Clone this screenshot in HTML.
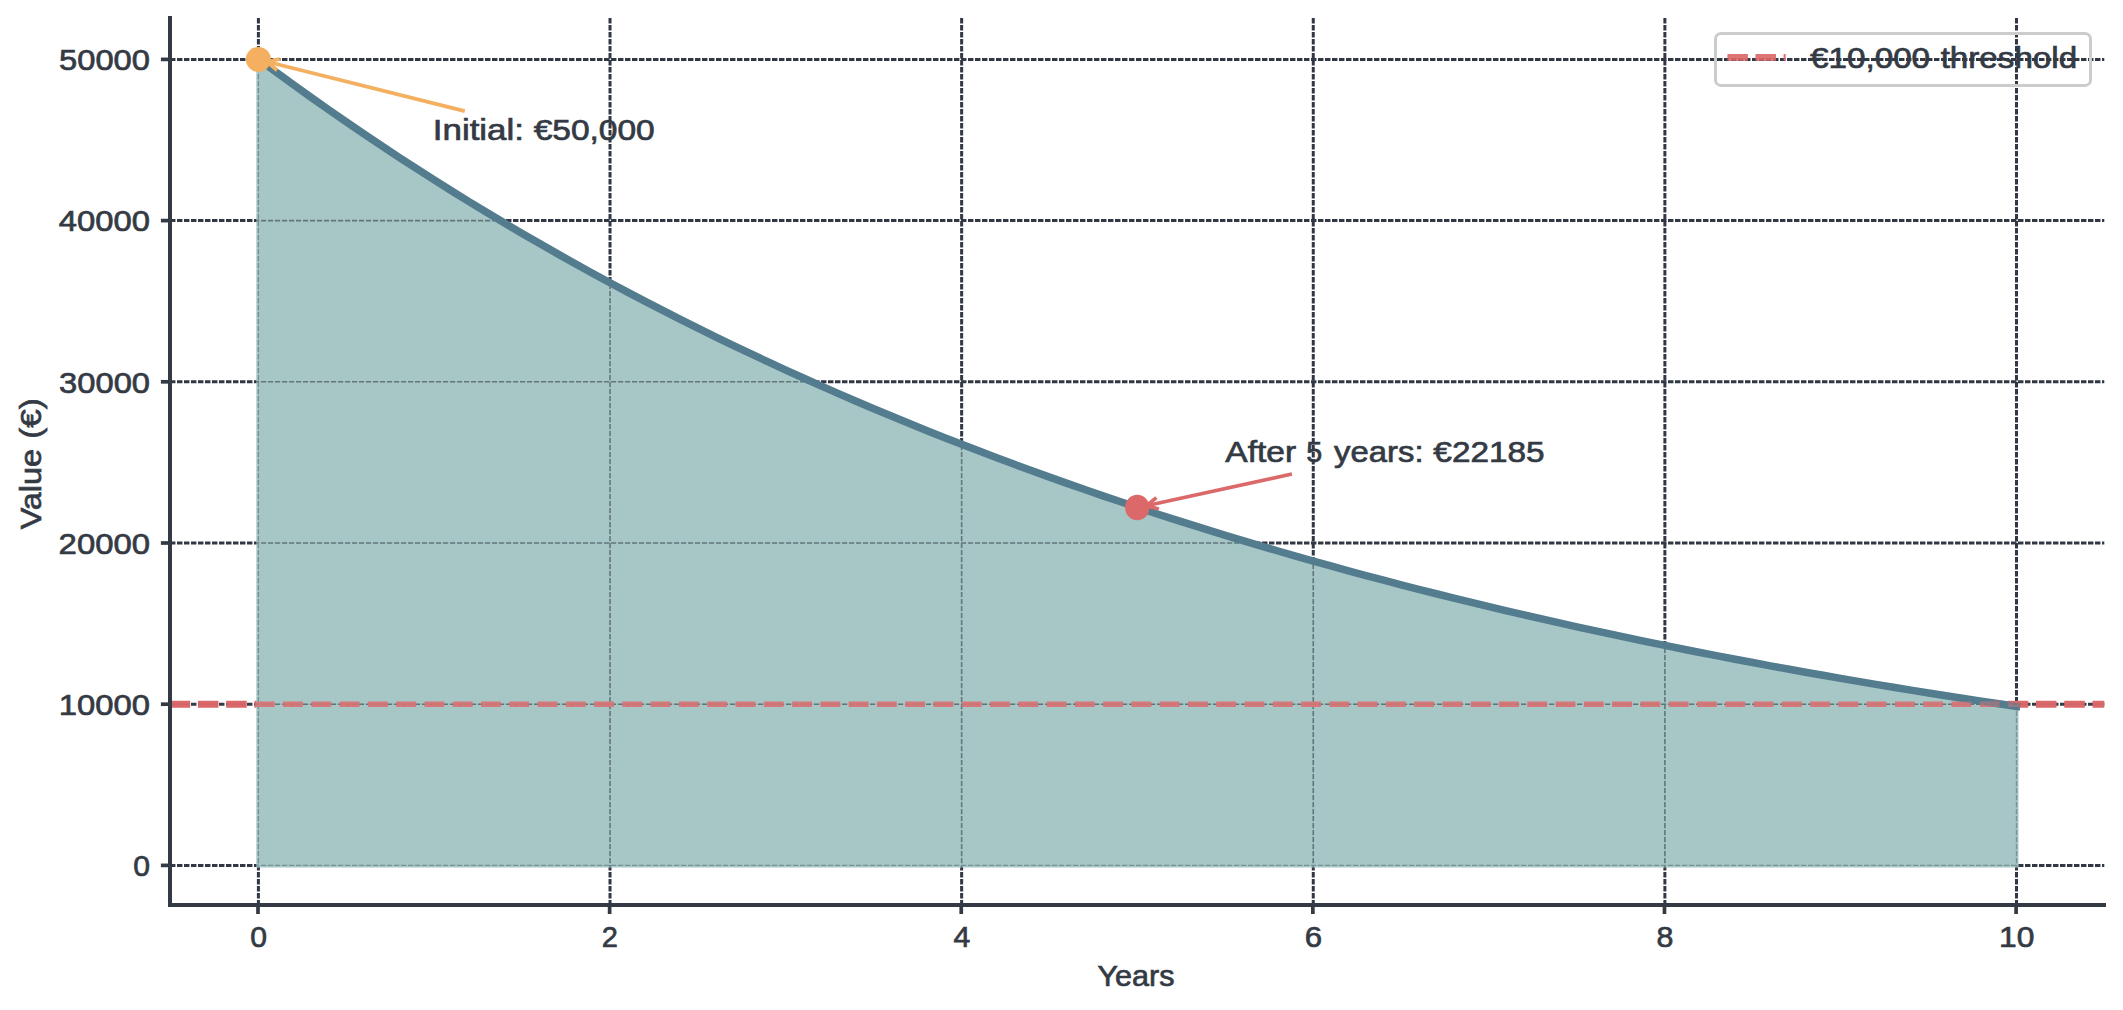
<!DOCTYPE html>
<html><head><meta charset="utf-8"><title>Depreciation chart</title>
<style>
html,body{margin:0;padding:0;background:#fff;}
body{width:2123px;height:1010px;overflow:hidden;font-family:"Liberation Sans",sans-serif;}
svg{display:block}
</style></head><body>
<svg width="2123" height="1010" viewBox="0 0 2123 1010" font-family="'Liberation Sans', sans-serif">
<rect width="2123" height="1010" fill="#ffffff"/>
<defs><clipPath id="fc"><path d="M256.40,867.40 L256.40,57.40 L258.40,57.40 L275.98,70.39 L293.56,83.18 L311.14,95.75 L328.72,108.13 L346.30,120.30 L363.89,132.28 L381.47,144.07 L399.05,155.67 L416.63,167.07 L434.21,178.30 L451.79,189.34 L469.37,200.21 L486.95,210.90 L504.53,221.42 L522.12,231.77 L539.70,241.95 L557.28,251.97 L574.86,261.83 L592.44,271.52 L610.02,281.07 L627.60,290.45 L645.18,299.69 L662.76,308.78 L680.34,317.72 L697.92,326.51 L715.51,335.17 L733.09,343.68 L750.67,352.06 L768.25,360.31 L785.83,368.42 L803.41,376.39 L820.99,384.25 L838.57,391.97 L856.15,399.57 L873.74,407.05 L891.32,414.40 L908.90,421.64 L926.48,428.76 L944.06,435.77 L961.64,442.66 L979.22,449.45 L996.80,456.12 L1014.38,462.68 L1031.96,469.14 L1049.55,475.50 L1067.13,481.75 L1084.71,487.91 L1102.29,493.96 L1119.87,499.91 L1137.45,505.77 L1155.03,511.54 L1172.61,517.21 L1190.19,522.79 L1207.77,528.28 L1225.36,533.68 L1242.94,539.00 L1260.52,544.23 L1278.10,549.37 L1295.68,554.44 L1313.26,559.42 L1330.84,564.32 L1348.42,569.14 L1366.00,573.88 L1383.58,578.55 L1401.16,583.14 L1418.75,587.66 L1436.33,592.10 L1453.91,596.48 L1471.49,600.78 L1489.07,605.01 L1506.65,609.18 L1524.23,613.28 L1541.81,617.31 L1559.39,621.28 L1576.97,625.18 L1594.56,629.02 L1612.14,632.80 L1629.72,636.52 L1647.30,640.17 L1664.88,643.77 L1682.46,647.31 L1700.04,650.80 L1717.62,654.22 L1735.20,657.60 L1752.78,660.91 L1770.37,664.18 L1787.95,667.39 L1805.53,670.55 L1823.11,673.66 L1840.69,676.72 L1858.27,679.73 L1875.85,682.69 L1893.43,685.60 L1911.01,688.47 L1928.59,691.29 L1946.18,694.06 L1963.76,696.79 L1981.34,699.48 L1998.92,702.12 L2016.50,704.72 L2018.50,704.72 L2018.50,867.40 Z"/></clipPath><clipPath id="fo"><path clip-rule="evenodd" d="M0,0 H2123 V1010 H0 Z M256.40,867.40 L256.40,57.40 L258.40,57.40 L275.98,70.39 L293.56,83.18 L311.14,95.75 L328.72,108.13 L346.30,120.30 L363.89,132.28 L381.47,144.07 L399.05,155.67 L416.63,167.07 L434.21,178.30 L451.79,189.34 L469.37,200.21 L486.95,210.90 L504.53,221.42 L522.12,231.77 L539.70,241.95 L557.28,251.97 L574.86,261.83 L592.44,271.52 L610.02,281.07 L627.60,290.45 L645.18,299.69 L662.76,308.78 L680.34,317.72 L697.92,326.51 L715.51,335.17 L733.09,343.68 L750.67,352.06 L768.25,360.31 L785.83,368.42 L803.41,376.39 L820.99,384.25 L838.57,391.97 L856.15,399.57 L873.74,407.05 L891.32,414.40 L908.90,421.64 L926.48,428.76 L944.06,435.77 L961.64,442.66 L979.22,449.45 L996.80,456.12 L1014.38,462.68 L1031.96,469.14 L1049.55,475.50 L1067.13,481.75 L1084.71,487.91 L1102.29,493.96 L1119.87,499.91 L1137.45,505.77 L1155.03,511.54 L1172.61,517.21 L1190.19,522.79 L1207.77,528.28 L1225.36,533.68 L1242.94,539.00 L1260.52,544.23 L1278.10,549.37 L1295.68,554.44 L1313.26,559.42 L1330.84,564.32 L1348.42,569.14 L1366.00,573.88 L1383.58,578.55 L1401.16,583.14 L1418.75,587.66 L1436.33,592.10 L1453.91,596.48 L1471.49,600.78 L1489.07,605.01 L1506.65,609.18 L1524.23,613.28 L1541.81,617.31 L1559.39,621.28 L1576.97,625.18 L1594.56,629.02 L1612.14,632.80 L1629.72,636.52 L1647.30,640.17 L1664.88,643.77 L1682.46,647.31 L1700.04,650.80 L1717.62,654.22 L1735.20,657.60 L1752.78,660.91 L1770.37,664.18 L1787.95,667.39 L1805.53,670.55 L1823.11,673.66 L1840.69,676.72 L1858.27,679.73 L1875.85,682.69 L1893.43,685.60 L1911.01,688.47 L1928.59,691.29 L1946.18,694.06 L1963.76,696.79 L1981.34,699.48 L1998.92,702.12 L2016.50,704.72 L2018.50,704.72 L2018.50,867.40 Z"/></clipPath><clipPath id="thr"><rect x="0" y="700.70" width="2123" height="7"/></clipPath></defs>
<g stroke="#313843" stroke-width="3" stroke-dasharray="5.45 1.55" fill="none">
<line x1="258.40" y1="18.0" x2="258.40" y2="905.0"/>
<line x1="610.02" y1="18.0" x2="610.02" y2="905.0"/>
<line x1="961.64" y1="18.0" x2="961.64" y2="905.0"/>
<line x1="1313.26" y1="18.0" x2="1313.26" y2="905.0"/>
<line x1="1664.88" y1="18.0" x2="1664.88" y2="905.0"/>
<line x1="2016.50" y1="18.0" x2="2016.50" y2="905.0"/>
<line x1="170.0" y1="865.40" x2="2104.3" y2="865.40"/>
<line x1="170.0" y1="704.20" x2="2104.3" y2="704.20"/>
<line x1="170.0" y1="543.00" x2="2104.3" y2="543.00"/>
<line x1="170.0" y1="381.80" x2="2104.3" y2="381.80"/>
<line x1="170.0" y1="220.60" x2="2104.3" y2="220.60"/>
<line x1="170.0" y1="59.40" x2="2104.3" y2="59.40"/>
</g>
<path d="M258.40,59.40 L275.98,72.39 L293.56,85.18 L311.14,97.75 L328.72,110.13 L346.30,122.30 L363.89,134.28 L381.47,146.07 L399.05,157.67 L416.63,169.07 L434.21,180.30 L451.79,191.34 L469.37,202.21 L486.95,212.90 L504.53,223.42 L522.12,233.77 L539.70,243.95 L557.28,253.97 L574.86,263.83 L592.44,273.52 L610.02,283.07 L627.60,292.45 L645.18,301.69 L662.76,310.78 L680.34,319.72 L697.92,328.51 L715.51,337.17 L733.09,345.68 L750.67,354.06 L768.25,362.31 L785.83,370.42 L803.41,378.39 L820.99,386.25 L838.57,393.97 L856.15,401.57 L873.74,409.05 L891.32,416.40 L908.90,423.64 L926.48,430.76 L944.06,437.77 L961.64,444.66 L979.22,451.45 L996.80,458.12 L1014.38,464.68 L1031.96,471.14 L1049.55,477.50 L1067.13,483.75 L1084.71,489.91 L1102.29,495.96 L1119.87,501.91 L1137.45,507.77 L1155.03,513.54 L1172.61,519.21 L1190.19,524.79 L1207.77,530.28 L1225.36,535.68 L1242.94,541.00 L1260.52,546.23 L1278.10,551.37 L1295.68,556.44 L1313.26,561.42 L1330.84,566.32 L1348.42,571.14 L1366.00,575.88 L1383.58,580.55 L1401.16,585.14 L1418.75,589.66 L1436.33,594.10 L1453.91,598.48 L1471.49,602.78 L1489.07,607.01 L1506.65,611.18 L1524.23,615.28 L1541.81,619.31 L1559.39,623.28 L1576.97,627.18 L1594.56,631.02 L1612.14,634.80 L1629.72,638.52 L1647.30,642.17 L1664.88,645.77 L1682.46,649.31 L1700.04,652.80 L1717.62,656.22 L1735.20,659.60 L1752.78,662.91 L1770.37,666.18 L1787.95,669.39 L1805.53,672.55 L1823.11,675.66 L1840.69,678.72 L1858.27,681.73 L1875.85,684.69 L1893.43,687.60 L1911.01,690.47 L1928.59,693.29 L1946.18,696.06 L1963.76,698.79 L1981.34,701.48 L1998.92,704.12 L2016.50,706.72 L2016.50,865.40 L258.40,865.40 Z" fill="#a7c6c6" stroke="#a7c6c6" stroke-width="4.0" stroke-linejoin="miter"/>
<g clip-path="url(#fc)">
<g stroke="#63777b" stroke-width="1.6" stroke-dasharray="5.2 1.8" fill="none">
<line x1="610.02" y1="18.0" x2="610.02" y2="905.0"/>
<line x1="961.64" y1="18.0" x2="961.64" y2="905.0"/>
<line x1="1313.26" y1="18.0" x2="1313.26" y2="905.0"/>
<line x1="1664.88" y1="18.0" x2="1664.88" y2="905.0"/>
<line x1="170.0" y1="704.20" x2="2104.3" y2="704.20"/>
<line x1="170.0" y1="543.00" x2="2104.3" y2="543.00"/>
<line x1="170.0" y1="381.80" x2="2104.3" y2="381.80"/>
<line x1="170.0" y1="220.60" x2="2104.3" y2="220.60"/>
<line x1="170.0" y1="59.40" x2="2104.3" y2="59.40"/>
</g>
<g stroke="#789194" stroke-width="1.4" stroke-dasharray="5.2 1.8" fill="none">
<line x1="258.40" y1="18.0" x2="258.40" y2="905.0"/>
<line x1="2016.50" y1="18.0" x2="2016.50" y2="905.0"/>
<line x1="170.0" y1="865.40" x2="2104.3" y2="865.40"/>
</g>
</g>
<path d="M258.40,59.40 L275.98,72.39 L293.56,85.18 L311.14,97.75 L328.72,110.13 L346.30,122.30 L363.89,134.28 L381.47,146.07 L399.05,157.67 L416.63,169.07 L434.21,180.30 L451.79,191.34 L469.37,202.21 L486.95,212.90 L504.53,223.42 L522.12,233.77 L539.70,243.95 L557.28,253.97 L574.86,263.83 L592.44,273.52 L610.02,283.07 L627.60,292.45 L645.18,301.69 L662.76,310.78 L680.34,319.72 L697.92,328.51 L715.51,337.17 L733.09,345.68 L750.67,354.06 L768.25,362.31 L785.83,370.42 L803.41,378.39 L820.99,386.25 L838.57,393.97 L856.15,401.57 L873.74,409.05 L891.32,416.40 L908.90,423.64 L926.48,430.76 L944.06,437.77 L961.64,444.66 L979.22,451.45 L996.80,458.12 L1014.38,464.68 L1031.96,471.14 L1049.55,477.50 L1067.13,483.75 L1084.71,489.91 L1102.29,495.96 L1119.87,501.91 L1137.45,507.77 L1155.03,513.54 L1172.61,519.21 L1190.19,524.79 L1207.77,530.28 L1225.36,535.68 L1242.94,541.00 L1260.52,546.23 L1278.10,551.37 L1295.68,556.44 L1313.26,561.42 L1330.84,566.32 L1348.42,571.14 L1366.00,575.88 L1383.58,580.55 L1401.16,585.14 L1418.75,589.66 L1436.33,594.10 L1453.91,598.48 L1471.49,602.78 L1489.07,607.01 L1506.65,611.18 L1524.23,615.28 L1541.81,619.31 L1559.39,623.28 L1576.97,627.18 L1594.56,631.02 L1612.14,634.80 L1629.72,638.52 L1647.30,642.17 L1664.88,645.77 L1682.46,649.31 L1700.04,652.80 L1717.62,656.22 L1735.20,659.60 L1752.78,662.91 L1770.37,666.18 L1787.95,669.39 L1805.53,672.55 L1823.11,675.66 L1840.69,678.72 L1858.27,681.73 L1875.85,684.69 L1893.43,687.60 L1911.01,690.47 L1928.59,693.29 L1946.18,696.06 L1963.76,698.79 L1981.34,701.48 L1998.92,704.12 L2016.50,706.72" transform="translate(0,-0.35)" fill="none" stroke="#537c8f" stroke-width="7.5" stroke-linecap="square" stroke-linejoin="round"/>
<line clip-path="url(#fo)" x1="169.65" y1="704.20" x2="2104.3" y2="704.20" stroke="#dc686a" stroke-width="6.9" stroke-dasharray="20.5 7.778"/>
<line clip-path="url(#fc)" x1="170.0" y1="704.20" x2="2104.3" y2="704.20" stroke="#d5787a" stroke-width="5.5" stroke-dasharray="19.8 8.478"/>
<g clip-path="url(#thr)"><path d="M258.40,59.40 L275.98,72.39 L293.56,85.18 L311.14,97.75 L328.72,110.13 L346.30,122.30 L363.89,134.28 L381.47,146.07 L399.05,157.67 L416.63,169.07 L434.21,180.30 L451.79,191.34 L469.37,202.21 L486.95,212.90 L504.53,223.42 L522.12,233.77 L539.70,243.95 L557.28,253.97 L574.86,263.83 L592.44,273.52 L610.02,283.07 L627.60,292.45 L645.18,301.69 L662.76,310.78 L680.34,319.72 L697.92,328.51 L715.51,337.17 L733.09,345.68 L750.67,354.06 L768.25,362.31 L785.83,370.42 L803.41,378.39 L820.99,386.25 L838.57,393.97 L856.15,401.57 L873.74,409.05 L891.32,416.40 L908.90,423.64 L926.48,430.76 L944.06,437.77 L961.64,444.66 L979.22,451.45 L996.80,458.12 L1014.38,464.68 L1031.96,471.14 L1049.55,477.50 L1067.13,483.75 L1084.71,489.91 L1102.29,495.96 L1119.87,501.91 L1137.45,507.77 L1155.03,513.54 L1172.61,519.21 L1190.19,524.79 L1207.77,530.28 L1225.36,535.68 L1242.94,541.00 L1260.52,546.23 L1278.10,551.37 L1295.68,556.44 L1313.26,561.42 L1330.84,566.32 L1348.42,571.14 L1366.00,575.88 L1383.58,580.55 L1401.16,585.14 L1418.75,589.66 L1436.33,594.10 L1453.91,598.48 L1471.49,602.78 L1489.07,607.01 L1506.65,611.18 L1524.23,615.28 L1541.81,619.31 L1559.39,623.28 L1576.97,627.18 L1594.56,631.02 L1612.14,634.80 L1629.72,638.52 L1647.30,642.17 L1664.88,645.77 L1682.46,649.31 L1700.04,652.80 L1717.62,656.22 L1735.20,659.60 L1752.78,662.91 L1770.37,666.18 L1787.95,669.39 L1805.53,672.55 L1823.11,675.66 L1840.69,678.72 L1858.27,681.73 L1875.85,684.69 L1893.43,687.60 L1911.01,690.47 L1928.59,693.29 L1946.18,696.06 L1963.76,698.79 L1981.34,701.48 L1998.92,704.12 L2016.50,706.72" transform="translate(0,-0.35)" fill="none" stroke="#537c8f" stroke-opacity="0.5" stroke-width="7.5" stroke-linecap="square"/></g>
<line x1="170.0" y1="704.20" x2="2104.3" y2="704.20" stroke="#6b5a5e" stroke-opacity="0.13" stroke-width="1.6" stroke-dasharray="5.1 1.9"/>
<path d="M170.0,16.0 L170.0,905.0 L2106.0,905.0" fill="none" stroke="#343a44" stroke-width="4" stroke-linejoin="miter" stroke-linecap="butt"/>
<rect x="168.0" y="903.0" width="4" height="4" fill="#343a44"/>
<g stroke="#343a44" stroke-width="3.7">
<line x1="258.00" y1="905.0" x2="258.00" y2="914.0"/>
<line x1="609.62" y1="905.0" x2="609.62" y2="914.0"/>
<line x1="961.24" y1="905.0" x2="961.24" y2="914.0"/>
<line x1="1312.86" y1="905.0" x2="1312.86" y2="914.0"/>
<line x1="1664.48" y1="905.0" x2="1664.48" y2="914.0"/>
<line x1="2016.10" y1="905.0" x2="2016.10" y2="914.0"/>
<line x1="160.9" y1="865.40" x2="170.0" y2="865.40"/>
<line x1="160.9" y1="704.20" x2="170.0" y2="704.20"/>
<line x1="160.9" y1="543.00" x2="170.0" y2="543.00"/>
<line x1="160.9" y1="381.80" x2="170.0" y2="381.80"/>
<line x1="160.9" y1="220.60" x2="170.0" y2="220.60"/>
<line x1="160.9" y1="59.40" x2="170.0" y2="59.40"/>
</g>
<g fill="none" stroke="#f4b060" stroke-width="3.7" stroke-linecap="butt" stroke-linejoin="miter"><line x1="464.80" y1="111.10" x2="267.13" y2="61.78"/><path d="M277.04,70.26 L267.13,61.78 L279.87,58.95"/></g>
<g fill="none" stroke="#db696a" stroke-width="3.7" stroke-linecap="butt" stroke-linejoin="miter"><line x1="1291.90" y1="474.00" x2="1146.24" y2="505.76"/><path d="M1158.89,508.97 L1146.24,505.76 L1156.40,497.58"/></g>
<circle cx="258.40" cy="59.40" r="12.5" fill="#f4b060"/>
<ellipse cx="1137.25" cy="507.48" rx="12.2" ry="12.7" fill="#db696a"/>
<rect x="1715.5" y="33.4" width="375" height="52" rx="5.5" ry="5.5" fill="none" stroke="#cccccc" stroke-width="3"/>
<line x1="1727.4" y1="57.3" x2="1785.7" y2="57.3" stroke="#dc686a" stroke-opacity="0.92" stroke-width="6.7" stroke-dasharray="20.5 7.6"/>
<text y="67.80" fill="#343a44" stroke="#343a44" stroke-width="0.7" font-size="30.1"><tspan x="1809.98" textLength="120.15" lengthAdjust="spacingAndGlyphs">€10,000</tspan> <tspan x="1940.66" textLength="136.49" lengthAdjust="spacingAndGlyphs">threshold</tspan></text>
<text y="876.20" fill="#343a44" stroke="#343a44" stroke-width="0.7" font-size="30.1"><tspan x="133.14" textLength="16.76" lengthAdjust="spacingAndGlyphs">0</tspan></text>
<text y="715.00" fill="#343a44" stroke="#343a44" stroke-width="0.7" font-size="30.1"><tspan x="58.87" textLength="91.12" lengthAdjust="spacingAndGlyphs">10000</tspan></text>
<text y="553.80" fill="#343a44" stroke="#343a44" stroke-width="0.7" font-size="30.1"><tspan x="58.64" textLength="91.35" lengthAdjust="spacingAndGlyphs">20000</tspan></text>
<text y="392.60" fill="#343a44" stroke="#343a44" stroke-width="0.7" font-size="30.1"><tspan x="59.13" textLength="90.86" lengthAdjust="spacingAndGlyphs">30000</tspan></text>
<text y="231.40" fill="#343a44" stroke="#343a44" stroke-width="0.7" font-size="30.1"><tspan x="58.83" textLength="91.16" lengthAdjust="spacingAndGlyphs">40000</tspan></text>
<text y="70.20" fill="#343a44" stroke="#343a44" stroke-width="0.7" font-size="30.1"><tspan x="59.09" textLength="90.89" lengthAdjust="spacingAndGlyphs">50000</tspan></text>
<text y="946.50" fill="#343a44" stroke="#343a44" stroke-width="0.7" font-size="30.1"><tspan x="250.22" textLength="16.76" lengthAdjust="spacingAndGlyphs">0</tspan></text>
<text y="946.50" fill="#343a44" stroke="#343a44" stroke-width="0.7" font-size="30.1"><tspan x="601.77" textLength="16.11" lengthAdjust="spacingAndGlyphs">2</tspan></text>
<text y="946.50" fill="#343a44" stroke="#343a44" stroke-width="0.7" font-size="30.1"><tspan x="953.45" textLength="16.76" lengthAdjust="spacingAndGlyphs">4</tspan></text>
<text y="946.50" fill="#343a44" stroke="#343a44" stroke-width="0.7" font-size="30.1"><tspan x="1304.78" textLength="17.34" lengthAdjust="spacingAndGlyphs">6</tspan></text>
<text y="946.50" fill="#343a44" stroke="#343a44" stroke-width="0.7" font-size="30.1"><tspan x="1656.63" textLength="16.90" lengthAdjust="spacingAndGlyphs">8</tspan></text>
<text y="946.50" fill="#343a44" stroke="#343a44" stroke-width="0.7" font-size="30.1"><tspan x="1999.09" textLength="35.33" lengthAdjust="spacingAndGlyphs">10</tspan></text>
<text y="985.80" fill="#343a44" stroke="#343a44" stroke-width="0.7" font-size="30.1"><tspan x="1097.54" textLength="77.04" lengthAdjust="spacingAndGlyphs">Years</tspan></text>
<text transform="translate(40.80,529.58) rotate(-90)" y="0" fill="#343a44" stroke="#343a44" stroke-width="0.7" font-size="30.1"><tspan x="0.22" textLength="80.37" lengthAdjust="spacingAndGlyphs">Value</tspan> <tspan x="90.86" textLength="40.45" lengthAdjust="spacingAndGlyphs">(€)</tspan></text>
<text y="139.60" fill="#343a44" stroke="#343a44" stroke-width="0.7" font-size="30.1"><tspan x="432.82" textLength="91.18" lengthAdjust="spacingAndGlyphs">Initial:</tspan> <tspan x="533.66" textLength="121.10" lengthAdjust="spacingAndGlyphs">€50,000</tspan></text>
<text y="462.10" fill="#343a44" stroke="#343a44" stroke-width="0.7" font-size="30.1"><tspan x="1225.32" textLength="70.81" lengthAdjust="spacingAndGlyphs">After</tspan> <tspan x="1306.35" textLength="15.96" lengthAdjust="spacingAndGlyphs">5</tspan> <tspan x="1334.12" textLength="89.43" lengthAdjust="spacingAndGlyphs">years:</tspan> <tspan x="1433.39" textLength="111.21" lengthAdjust="spacingAndGlyphs">€22185</tspan></text>
</svg>
</body></html>
